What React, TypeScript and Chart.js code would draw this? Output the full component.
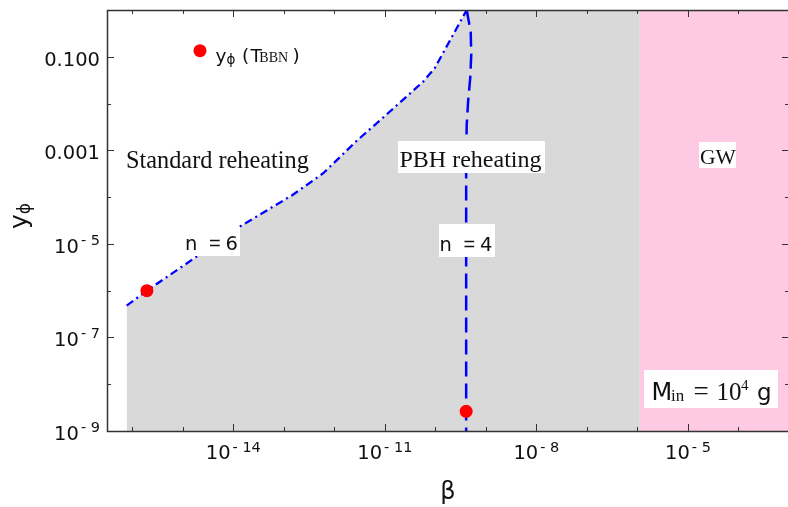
import React, { useEffect, useRef } from "react";
import { Chart, registerables } from "chart.js";

Chart.register(...registerables);

// ---- axis ranges ----
const betaMin = 10 ** -16.5;
const betaMax = 1e-3;
const yMin = 1e-9;
const yMax = 1;

// ---- n = 6 boundary (dash-dot, standard reheating / PBH reheating) ----
const n6Beta = [7.76e-17, 1.95e-16, 2.14e-15, 1.35e-14, 1.51e-13, 6.03e-13, 2.75e-12, 1.26e-11, 5.75e-11, 9.77e-11, 4.17e-10];
const n6Y = [4.79e-7, 1.0e-6, 5.89e-6, 2.34e-5, 1.12e-4, 3.24e-4, 1.58e-3, 6.76e-3, 2.95e-2, 5.75e-2, 1];

// ---- n = 4 boundary (dashed) ----
const n4Beta = [4.17e-10, 5.01e-10, 5.13e-10, 4.9e-10, 4.47e-10, 4.17e-10, 4.07e-10, 4.07e-10];
const n4Y = [1, 0.339, 0.11, 0.0355, 0.012, 3.47e-3, 6.31e-4, 1e-9];

// ---- y_phi(T_BBN) points ----
const bbnBeta = [1.95e-16, 4.07e-10];
const bbnY = [1.0e-6, 2.63e-9];
const legendBeta = [2.19e-15];
const legendY = [0.135];

// ---- GW region start ----
const gwStartBeta = 1.12e-6;

// ---- ticks ----
const xMajorExp = [-14, -11, -8, -5];
const xTickLabels = ["10^- 14", "10^- 11", "10^- 8", "10^- 5"];
const xMinorExp = [-16, -15, -13, -12, -10, -9, -7, -6, -4];
const yMajorExp = [-1, -3, -5, -7, -9];
const yTickLabels = ["0.100", "0.001", "10^- 5", "10^- 7", "10^- 9"];
const yMinorExp = [0, -2, -4, -6, -8];

const SANS = '"DejaVu Sans", Verdana, sans-serif';
const LSANS = '"Liberation Sans", Arial, sans-serif';
const SERIF = '"Liberation Serif", "Times New Roman", serif';
const fnt = (s: number, fam: string) => `${s}px ${fam}`;

const pts = (xs: number[], ys: number[]) => xs.map((x, i) => ({ x, y: ys[i] }));

function txt(ctx: CanvasRenderingContext2D, s: string, x: number, y: number, font: string, align: CanvasTextAlign = "left") {
  ctx.font = font;
  ctx.textAlign = align;
  ctx.textBaseline = "alphabetic";
  ctx.fillText(s, x, y);
  return ctx.measureText(s).width;
}
function mw(ctx: CanvasRenderingContext2D, s: string, font: string) {
  ctx.font = font;
  return ctx.measureText(s).width;
}

const overlay = {
  id: "overlay",
  afterDatasetsDraw(chart: any) {
    const { ctx, chartArea: a, scales } = chart;
    const xs = scales.x;
    const ys = scales.y;
    ctx.save();

    // white label boxes + texts inside plot
    ctx.fillStyle = "#ffffff";
    ctx.fillRect(185, 227, 55, 29); // n=6
    ctx.fillRect(439, 224, 56, 33); // n=4
    ctx.fillRect(398, 141, 147, 32); // PBH reheating
    ctx.fillRect(699, 142, 37, 26); // GW
    ctx.fillRect(644, 370, 134, 38); // M_in

    ctx.fillStyle = "#111111";
    txt(ctx, "Standard reheating", 126, 168, fnt(24.3, SERIF));
    txt(ctx, "PBH reheating", 399.5, 167, fnt(24, SERIF));
    txt(ctx, "GW", 700, 163.5, fnt(21.5, SERIF));

    // n = 6
    txt(ctx, "n", 185, 249.5, fnt(19.5, SANS));
    txt(ctx, "=", 209, 249.5, fnt(20, LSANS));
    txt(ctx, "6", 225.5, 249.5, fnt(19.5, SANS));
    // n = 4
    txt(ctx, "n", 439.5, 250.5, fnt(19.5, SANS));
    txt(ctx, "=", 463.5, 250.5, fnt(20, LSANS));
    txt(ctx, "4", 480, 250.5, fnt(19.5, SANS));

    // M_in = 10^4 g
    txt(ctx, "M", 651.5, 399.5, fnt(24, SANS));
    txt(ctx, "in", 671, 401, fnt(17, SERIF));
    txt(ctx, "=", 693.5, 400, fnt(27, SERIF));
    txt(ctx, "10", 716.5, 399.5, fnt(25, SERIF));
    txt(ctx, "4", 741, 390, fnt(15, SERIF));
    txt(ctx, "g", 757, 399.5, fnt(23, SANS));

    // legend text  y_phi (T_BBN)
    txt(ctx, "y", 215.5, 61.7, fnt(18.5, SANS));
    txt(ctx, "\u03D5", 226.5, 64, fnt(13.5, SANS));
    txt(ctx, "(", 242, 61.7, fnt(18.5, SANS));
    txt(ctx, "T", 250.5, 61.7, fnt(18.5, SANS));
    txt(ctx, "BBN", 259.3, 61.7, fnt(14, SERIF));
    txt(ctx, ")", 292.5, 61.7, fnt(18.5, SANS));

    // frame
    ctx.strokeStyle = "#333333";
    ctx.lineWidth = 1.5;
    ctx.strokeRect(Math.round(a.left) + 0.5, Math.round(a.top) + 0.5, Math.round(a.right - a.left), Math.round(a.bottom - a.top));

    // ticks
    ctx.lineWidth = 1;
    const line = (x1: number, y1: number, x2: number, y2: number) => {
      ctx.beginPath();
      ctx.moveTo(x1, y1);
      ctx.lineTo(x2, y2);
      ctx.stroke();
    };
    const xTick = (e: number, len: number) => {
      const px = Math.round(xs.getPixelForValue(10 ** e)) + 0.5;
      line(px, a.bottom, px, a.bottom - len);
      line(px, a.top, px, a.top + len);
    };
    const yTick = (e: number, len: number) => {
      const py = Math.round(ys.getPixelForValue(10 ** e)) + 0.5;
      line(a.left, py, a.left + len, py);
      line(a.right, py, a.right - len, py);
    };
    xMajorExp.forEach((e) => xTick(e, 7));
    xMinorExp.forEach((e) => xTick(e, 4));
    yMajorExp.forEach((e) => yTick(e, 7));
    yMinorExp.forEach((e) => yTick(e, 4));

    // tick labels
    ctx.fillStyle = "#111111";
    const baseF = fnt(19.5, SANS);
    const supF = fnt(14.5, SANS);
    xMajorExp.forEach((e, i) => {
      const px = xs.getPixelForValue(10 ** e);
      const [b, s] = xTickLabels[i].split("^");
      const w1 = mw(ctx, b, baseF);
      const w2 = mw(ctx, s, supF);
      const start = px - (w1 + 2 + w2) / 2;
      txt(ctx, b, start, a.bottom + 28, baseF);
      txt(ctx, s, start + w1 + 2, a.bottom + 21, supF);
    });
    yMajorExp.forEach((e, i) => {
      const py = ys.getPixelForValue(10 ** e);
      const lab = yTickLabels[i];
      const right = a.left - 7;
      if (lab.indexOf("^") < 0) {
        txt(ctx, lab, right, py + 9, baseF, "right");
      } else {
        const [b, s] = lab.split("^");
        const w2 = mw(ctx, s, supF);
        txt(ctx, s, right, py + 1, supF, "right");
        txt(ctx, b, right - w2 - 2, py + 9, baseF, "right");
      }
    });

    // axis titles
    txt(ctx, "\u03B2", (a.left + a.right) / 2, 499, fnt(24, SANS), "center");
    ctx.save();
    ctx.translate(27, 216);
    ctx.rotate(-Math.PI / 2);
    const wy = mw(ctx, "y", fnt(25, SANS));
    const wp = mw(ctx, "\u03D5", fnt(17, SANS));
    const st = -(wy + wp) / 2;
    txt(ctx, "y", st, 0, fnt(25, SANS));
    txt(ctx, "\u03D5", st + wy, 3, fnt(17, SANS));
    ctx.restore();

    ctx.restore();
  },
};

export default function App() {
  const ref = useRef<HTMLCanvasElement | null>(null);
  useEffect(() => {
    if (!ref.current) return;
    const chart = new Chart(ref.current, {
      type: "line",
      data: {
        datasets: [
          {
            label: "y_phi(T_BBN)",
            data: pts(bbnBeta, bbnY),
            showLine: false,
            pointRadius: 6.5,
            pointBackgroundColor: "#ff0000",
            pointBorderWidth: 0,
            pointBorderColor: "#ff0000",
            order: 0,
          },
          {
            label: "legend marker",
            data: pts(legendBeta, legendY),
            showLine: false,
            pointRadius: 6.5,
            pointBackgroundColor: "#ff0000",
            pointBorderWidth: 0,
            pointBorderColor: "#ff0000",
            order: 0,
          },
          {
            label: "n = 6",
            data: pts(n6Beta, n6Y),
            borderColor: "#0000ff",
            borderWidth: 2.3,
            borderDash: [8, 4, 2, 4],
            pointRadius: 0,
            fill: false,
            tension: 0,
            order: 1,
          },
          {
            label: "n = 4",
            data: pts(n4Beta, n4Y),
            borderColor: "#0000ff",
            borderWidth: 2.5,
            borderDash: [15, 7],
            pointRadius: 0,
            fill: false,
            tension: 0,
            order: 2,
          },
          {
            label: "PBH region",
            data: [...pts(n6Beta, n6Y), { x: gwStartBeta, y: yMax }],
            borderColor: "transparent",
            borderWidth: 0,
            backgroundColor: "#d9d9d9",
            pointRadius: 0,
            fill: "start",
            order: 3,
          },
          {
            label: "GW region",
            data: [{ x: gwStartBeta, y: yMax }, { x: betaMax, y: yMax }],
            borderColor: "transparent",
            borderWidth: 0,
            backgroundColor: "#fdc9e3",
            pointRadius: 0,
            fill: "start",
            order: 4,
          },
        ],
      },
      options: {
        responsive: false,
        animation: false,
        devicePixelRatio: 1,
        layout: { autoPadding: false, padding: { top: 10, right: 0, left: 0, bottom: 0 } },
        plugins: { legend: { display: false }, tooltip: { enabled: false } },
        events: [],
        scales: {
          x: {
            type: "logarithmic",
            min: betaMin,
            max: betaMax,
            grid: { display: false },
            border: { display: false },
            ticks: { display: false },
            afterFit: (s: any) => {
              s.height = 76;
            },
          },
          y: {
            type: "logarithmic",
            min: yMin,
            max: yMax,
            grid: { display: false },
            border: { display: false },
            ticks: { display: false },
            afterFit: (s: any) => {
              s.width = 107;
            },
          },
        },
      },
      plugins: [overlay],
    } as any);
    return () => chart.destroy();
  }, []);
  return (
    <div style={{ position: "fixed", left: 0, top: 0, width: 789, height: 507, background: "#fff" }}>
      <canvas ref={ref} width={789} height={507} style={{ display: "block" }} />
    </div>
  );
}
